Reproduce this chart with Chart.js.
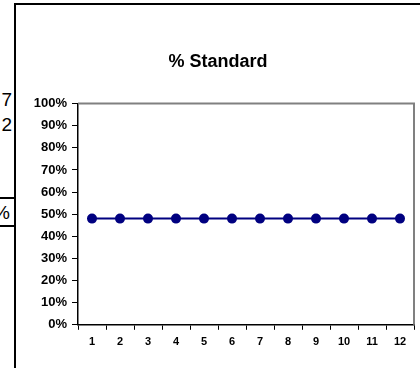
<!DOCTYPE html>
<html>
<head>
<meta charset="utf-8">
<script src="https://cdn.jsdelivr.net/npm/chart.js@4"></script>
<style>
  html, body { margin: 0; padding: 0; background: #fff; }
  body { width: 420px; height: 368px; position: relative; overflow: hidden; font-family: "Liberation Sans", Arial, sans-serif; }
  #frame { position: absolute; left: 14px; top: 3px; width: 420px; height: 380px; border-left: 2px solid #000; border-top: 2px solid #000; }
  .frag { position: absolute; right: 408px; font-size: 19px; line-height: 20px; color: #000; white-space: nowrap; }
  .rule { position: absolute; left: 0; width: 15px; height: 2px; background: #000; }
  #wrap { position: absolute; left: 16px; top: 5px; width: 404px; height: 363px; }
</style>
</head>
<body>
<div class="frag" style="top:90px">7</div>
<div class="frag" style="top:115px">2</div>
<div class="rule" style="top:197px"></div>
<div class="frag" style="top:203px; right:410px">%</div>
<div class="rule" style="top:225px"></div>
<div id="frame"></div>
<div id="wrap"><canvas id="chart-display"></canvas></div>
<script>
var months = ['1', '2', '3', '4', '5', '6', '7', '8', '9', '10', '11', '12'];
var standardPct = [48, 48, 48, 48, 48, 48, 48, 48, 48, 48, 48, 48];
var chartTitle = '% Standard';

var ctx = document.getElementById('chart-display');

// gray box round the plot area, axes draw over it in black
var plotBorder = {
    id: 'plotBorder',
    beforeDatasetsDraw: function(chart) {
        var a = chart.chartArea, c = chart.ctx;
        c.save();
        c.strokeStyle = '#808080';
        c.lineWidth = 2;
        c.beginPath();
        c.moveTo(a.left, a.top);
        c.lineTo(a.right, a.top);
        c.lineTo(a.right, a.bottom);
        c.stroke();
        c.restore();
    }
};

new Chart(ctx, {
    type: 'line',
    data: {
        labels: months,
        datasets: [{
            label: chartTitle,
            data: standardPct,
            borderColor: '#000080',
            backgroundColor: '#000080',
            borderWidth: 2,
            pointRadius: 4,
            pointHoverRadius: 4,
            tension: 0
        }]
    },
    options: {
        responsive: true,
        maintainAspectRatio: false,
        animation: false,
        layout: { padding: { top: 36, right: 5, left: 5, bottom: 13 } },
        plugins: {
            legend: { display: false },
            tooltip: { enabled: false },
            title: {
                display: true,
                text: chartTitle,
                color: '#000',
                font: { family: 'Liberation Sans', size: 18, weight: 'bold' },
                padding: { top: 10, bottom: 31 }
            }
        },
        scales: {
            x: {
                offset: true,
                grid: { offset: true, drawOnChartArea: false, drawTicks: true, tickLength: 5, color: '#000' },
                border: { color: '#000', width: 1.5 },
                ticks: { color: '#000', font: { family: 'Liberation Sans', size: 11, weight: 'bold' }, padding: 6, maxRotation: 0 }
            },
            y: {
                min: 0,
                max: 100,
                afterFit: function(scale) { scale.width = 57; },
                grid: { drawOnChartArea: false, drawTicks: true, tickLength: 6, color: '#000' },
                border: { color: '#000', width: 1.5 },
                ticks: {
                    stepSize: 10,
                    color: '#000',
                    padding: 5,
                    font: { family: 'Liberation Sans', size: 13, weight: 'bold' },
                    callback: function(v) { return v + '%'; }
                }
            }
        }
    },
    plugins: [plotBorder]
});
</script>
</body>
</html>
